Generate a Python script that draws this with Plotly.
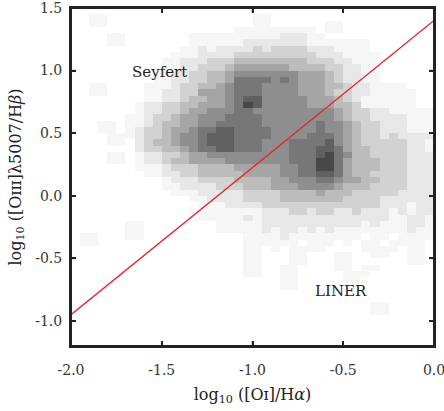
import plotly.graph_objects as go

# 2D histogram of log10([OI]/Ha) vs log10([OIII]/Hb); bins 0.05 x 0.05
# rows listed top (y=1.5) to bottom (y=-1.2); columns x=-2.0 .. 0.0
# digits: relative density level (0 = empty, 9 = densest)
density_rows = [
    "0000000000" "0000000000" "0000000000" "0000000000",
    "0011000000" "0000000000" "1100000000" "0000000000",
    "0011000000" "0000000000" "1100000011" "0000000000",
    "0000000000" "0000000011" "1111111011" "0000000000",
    "0000110000" "0001111111" "1112221100" "0000000000",
    "0000110000" "0001111112" "2222221111" "1110000000",
    "0000000000" "0011212222" "3233332221" "1110000000",
    "0000000000" "0111222233" "3333333222" "1111000000",
    "0000000000" "1122233344" "4444443332" "2111000000",
    "0000000000" "1122333455" "5555444433" "2211000000",
    "0000000001" "1223344566" "6666655543" "2211000000",
    "0000000001" "1223344577" "7767655543" "2211000000",
    "0011000011" "1233445677" "7666655544" "3221111000",
    "0011000011" "2233555677" "7666655543" "3221111100",
    "0000000011" "2234455678" "8666665554" "3211111100",
    "0000000122" "3344555679" "8666665554" "4311111100",
    "0000000122" "3345566677" "6666666665" "4332211111",
    "0000001123" "3455666777" "7666666665" "4332222111",
    "0001101123" "4455667777" "7666666766" "5433222111",
    "0001101233" "4556778877" "7766666766" "5433222111",
    "0000111233" "4566788877" "7766667776" "5433232222",
    "0000110234" "4566788877" "7666777786" "5433333221",
    "0000000233" "4456778877" "7666777887" "5443333221",
    "0000110122" "3345566666" "6666777897" "6443333222",
    "0000110122" "3445555666" "6666777997" "5444333222",
    "0000000111" "2333444455" "5556677997" "5444333222",
    "0000000011" "2233444445" "5556677887" "5443333222",
    "0000000000" "1222333344" "4455666776" "5544333222",
    "0000000000" "1122223334" "4455566665" "4443333222",
    "0000000000" "0111222223" "3334444544" "4333332222",
    "0000000000" "0001122223" "3334444444" "3333222222",
    "0000000000" "0000111222" "2333333333" "3333222122",
    "0000000000" "0001111111" "1222332332" "2322212122",
    "0000000000" "0000111112" "1222222222" "2222211221",
    "0000001100" "0000001111" "1222222222" "2212111221",
    "0000001100" "0000001111" "1212212121" "1111111211",
    "0110001100" "0000000001" "1112111111" "1101101111",
    "0110000000" "0000000001" "1111101110" "1011011110",
    "0000000000" "0000000001" "1010111100" "0011110110",
    "0000000000" "0000000001" "1000110001" "1001100110",
    "0000000000" "0000000001" "1000110001" "1000000110",
    "0000000000" "0000000001" "1001100001" "1011000000",
    "0000000000" "0000000001" "1001100000" "1110000000",
    "0000000000" "0000000000" "0001100000" "1100000000",
    "0000000000" "0000000000" "0001100000" "0000000000",
    "0000000000" "0000000000" "0000000000" "0000000000",
    "0000000000" "0000000000" "0000000000" "0000000000",
    "0000000000" "0000000000" "0000000000" "0001100000",
    "0000000000" "0000000000" "0000000000" "0001100000",
    "0000000000" "0000000000" "0000000000" "0000000000",
    "0000000000" "0000000000" "0000000000" "0000000000",
    "0000000000" "0000000000" "0000000000" "0000000000",
    "0000000000" "0000000000" "0000000000" "0000000000",
    "0000000000" "0000000000" "0000000000" "0000000000",
]

x_bin_centers = [round(-1.975 + 0.05 * i, 3) for i in range(40)]
y_bin_centers = [round(1.475 - 0.05 * j, 3) for j in range(54)]

# Seyfert / LINER demarcation line
line_x = [-2.0, 0.0]
line_y = [-0.95, 1.40]

x_range = [-2.0, 0.0]
y_range = [-1.2, 1.5]
x_tickvals = [-2.0, -1.5, -1.0, -0.5, 0.0]
x_ticktext = ["-2.0", "-1.5", "-1.0", "-0.5", "0.0"]
y_tickvals = [-1.0, -0.5, 0.0, 0.5, 1.0, 1.5]
y_ticktext = ["-1.0", "-0.5", "0.0", "0.5", "1.0", "1.5"]

labels = [("Seyfert", -1.51, 0.99), ("LINER", -0.51, -0.76)]

z = [[(int(ch) if ch != "0" else None) for ch in row] for row in density_rows]

grey_scale = [
    [0.0, "#f6f6f6"], [0.125, "#e7e7e7"], [0.25, "#d2d2d2"], [0.375, "#bcbcbc"],
    [0.5, "#a5a5a5"], [0.625, "#8e8e8e"], [0.75, "#777777"], [0.875, "#606060"],
    [1.0, "#484848"],
]

AX = "#222222"
W, H = 444, 411
M = dict(l=71, r=10, t=8, b=65)
FRAME_PX = 2.0
TICK_PX = 5.0
TICK_W = 1.5

fig = go.Figure()
fig.add_trace(go.Heatmap(
    x=x_bin_centers, y=y_bin_centers, z=z,
    zmin=1, zmax=9,
    colorscale=grey_scale,
    showscale=False, hoverinfo="skip",
))
fig.add_trace(go.Scatter(
    x=line_x, y=line_y, mode="lines",
    line=dict(color="#e8222a", width=1.3),
    hoverinfo="skip",
))

# frame as filled bars (one per side)
h = FRAME_PX / 2
fig.add_shape(type="rect", xref="paper", yref="paper", xsizemode="pixel", xanchor=0,
              x0=-h, x1=h, y0=0, y1=1, fillcolor=AX, line=dict(width=0), layer="above")
fig.add_shape(type="rect", xref="paper", yref="paper", xsizemode="pixel", xanchor=1,
              x0=-h, x1=h, y0=0, y1=1, fillcolor=AX, line=dict(width=0), layer="above")
fig.add_shape(type="rect", xref="paper", yref="paper", ysizemode="pixel", yanchor=0,
              x0=0, x1=1, y0=-h, y1=h, fillcolor=AX, line=dict(width=0), layer="above")
fig.add_shape(type="rect", xref="paper", yref="paper", ysizemode="pixel", yanchor=1,
              x0=0, x1=1, y0=-h, y1=h, fillcolor=AX, line=dict(width=0), layer="above")

# inside tick marks as small filled bars
tw = TICK_W / 2
for xv in x_tickvals:
    for anchor, y0, y1 in ((0, 0, TICK_PX), (1, -TICK_PX, 0)):
        fig.add_shape(type="rect", xref="x", yref="paper",
                      xsizemode="pixel", xanchor=xv, x0=-tw, x1=tw,
                      ysizemode="pixel", yanchor=anchor, y0=y0, y1=y1,
                      fillcolor=AX, line=dict(width=0), layer="above")
for yv in y_tickvals:
    for anchor, x0, x1 in ((0, 0, TICK_PX), (1, -TICK_PX, 0)):
        fig.add_shape(type="rect", xref="paper", yref="y",
                      xsizemode="pixel", xanchor=anchor, x0=x0, x1=x1,
                      ysizemode="pixel", yanchor=yv, y0=-tw, y1=tw,
                      fillcolor=AX, line=dict(width=0), layer="above")

for text, lx, ly in labels:
    fig.add_annotation(x=lx, y=ly, text=text, showarrow=False,
                       font=dict(family="DejaVu Serif", size=15, color="#222222"))

axis_common = dict(
    ticks="inside", ticklen=5, tickwidth=1.5, tickcolor=AX,
    showline=True, linewidth=2, linecolor=AX, mirror="ticks",
    showgrid=False, zeroline=False, automargin=False,
    ticklabeloverflow="allow",
    tickfont=dict(family="DejaVu Serif", size=14, color="#333333"),
)

fig.update_layout(
    template="none",
    width=W, height=H,
    margin=M,
    plot_bgcolor="white", paper_bgcolor="white",
    showlegend=False,
    font=dict(family="DejaVu Serif", size=14, color="#222222"),
    xaxis=dict(
        range=x_range, tickvals=x_tickvals, ticktext=x_ticktext,
        ticklabelstandoff=10,
        title=dict(text="log<sub>10</sub> ([Oɪ]/H<i>α</i>)",
                   font=dict(family="DejaVu Serif", size=16, color="#222222"), standoff=12),
        **axis_common,
    ),
    yaxis=dict(
        range=y_range, tickvals=y_tickvals, ticktext=y_ticktext,
        ticklabelstandoff=4,
        title=dict(text="log<sub>10</sub> ([Oɪɪɪ]λ5007/H<i>β</i>)",
                   font=dict(family="DejaVu Serif", size=16, color="#222222"), standoff=10),
        **axis_common,
    ),
)

fig.write_html("out.html")
